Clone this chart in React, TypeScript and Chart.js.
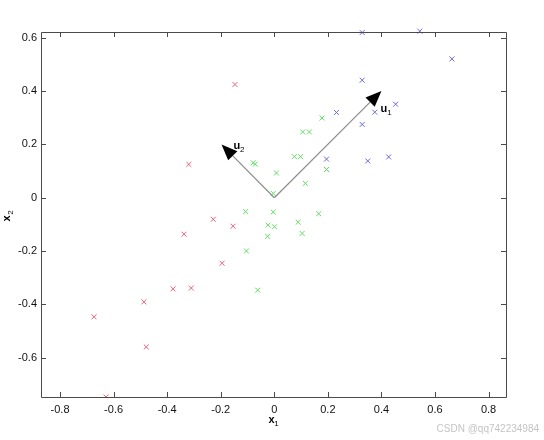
import { useEffect, useRef } from "react";
import { Chart, registerables } from "chart.js";

Chart.register(...registerables);

// ---- data ----
const RED_X = [-0.147, -0.319, -0.228, -0.154, -0.337, -0.195, -0.378, -0.31, -0.487, -0.673, -0.478, -0.628];
const RED_Y = [0.425, 0.125, -0.081, -0.107, -0.137, -0.246, -0.342, -0.339, -0.391, -0.447, -0.56, -0.748];

const GREEN_X = [-0.079, -0.071, 0.008, -0.004, -0.107, -0.004, 0.178, 0.106, 0.131, 0.075, 0.098, 0.116, 0.166, 0.195, -0.023, 0.001, 0.089, 0.104, -0.025, -0.104, -0.062];
const GREEN_Y = [0.131, 0.126, 0.093, 0.016, -0.052, -0.054, 0.299, 0.247, 0.247, 0.154, 0.154, 0.054, -0.06, 0.106, -0.103, -0.109, -0.092, -0.134, -0.145, -0.2, -0.347];

const BLUE_X = [0.328, 0.543, 0.663, 0.328, 0.453, 0.232, 0.375, 0.328, 0.195, 0.195, 0.349, 0.427];
const BLUE_Y = [0.62, 0.625, 0.521, 0.441, 0.351, 0.32, 0.321, 0.275, 0.145, 0.106, 0.138, 0.153];

// principal direction arrows (tip coordinates, from origin)
const ARROW_X = [0.4, -0.197];
const ARROW_Y = [0.401, 0.2];
const ARROW_NAMES = ["u", "u"];
const ARROW_SUBS = ["1", "2"];
const ARROW_LABEL_X = [0.409, -0.14];
const ARROW_LABEL_Y = [0.333, 0.194];

const X_TICKS = [-0.8, -0.6, -0.4, -0.2, 0, 0.2, 0.4, 0.6, 0.8];
const Y_TICKS = [-0.6, -0.4, -0.2, 0, 0.2, 0.4, 0.6];
const X_RANGE = [-0.871, 0.865];
const Y_RANGE = [-0.748, 0.622];

const X_TITLE = ["x", "1"];
const Y_TITLE = ["x", "2"];
const WATERMARK = "CSDN @qq742234984";

const FONT = "'Liberation Sans', Arial, sans-serif";

const pts = (xs: number[], ys: number[]) => xs.map((x, i) => ({ x, y: ys[i] }));

const fmt = (v: number) => {
  const r = Math.round(v * 10) / 10;
  if (r === 0) return "0";
  return r.toFixed(1);
};

const framePlugin = {
  id: "frame",
  afterDatasetsDraw(chart: any) {
    const { ctx, chartArea: a, scales } = chart;
    const xs = scales.x;
    const ys = scales.y;
    ctx.save();
    ctx.strokeStyle = "#4a4a4a";
    ctx.lineWidth = 1;
    ctx.beginPath();
    ctx.rect(Math.round(a.left) + 0.5, Math.round(a.top) + 0.5, Math.round(a.right - a.left), Math.round(a.bottom - a.top));
    ctx.stroke();
    const tl = 5;
    ctx.beginPath();
    X_TICKS.forEach((v) => {
      const p = Math.round(xs.getPixelForValue(v)) + 0.5;
      ctx.moveTo(p, a.bottom);
      ctx.lineTo(p, a.bottom - tl);
      ctx.moveTo(p, a.top);
      ctx.lineTo(p, a.top + tl);
    });
    Y_TICKS.forEach((v) => {
      const p = Math.round(ys.getPixelForValue(v)) + 0.5;
      ctx.moveTo(a.left, p);
      ctx.lineTo(a.left + tl, p);
      ctx.moveTo(a.right, p);
      ctx.lineTo(a.right - tl, p);
    });
    ctx.stroke();

    // arrows
    const ox = xs.getPixelForValue(0);
    const oy = ys.getPixelForValue(0);
    ARROW_X.forEach((ax, i) => {
      const tx = xs.getPixelForValue(ax);
      const ty = ys.getPixelForValue(ARROW_Y[i]);
      const dx = tx - ox;
      const dy = ty - oy;
      const len = Math.hypot(dx, dy);
      const ux = dx / len;
      const uy = dy / len;
      const hl = 16;
      const hw = 6.5;
      const bx = tx - ux * hl;
      const by = ty - uy * hl;
      ctx.strokeStyle = "#8c8c8c";
      ctx.lineWidth = 1.2;
      ctx.beginPath();
      ctx.moveTo(ox, oy);
      ctx.lineTo(bx, by);
      ctx.stroke();
      ctx.fillStyle = "#000";
      ctx.beginPath();
      ctx.moveTo(tx, ty);
      ctx.lineTo(bx - uy * hw, by + ux * hw);
      ctx.lineTo(bx + uy * hw, by - ux * hw);
      ctx.closePath();
      ctx.fill();

      const lx = xs.getPixelForValue(ARROW_LABEL_X[i]);
      const ly = ys.getPixelForValue(ARROW_LABEL_Y[i]);
      ctx.fillStyle = "#000";
      ctx.font = `bold 11px ${FONT}`;
      ctx.textAlign = "center";
      ctx.textBaseline = "middle";
      ctx.fillText(ARROW_NAMES[i], lx, ly);
      ctx.font = `8px ${FONT}`;
      ctx.fillText(ARROW_SUBS[i], lx + 5.5, ly + 4);
    });
    ctx.restore();
  },
  afterDraw(chart: any) {
    const { ctx, chartArea: a } = chart;
    ctx.save();
    ctx.fillStyle = "#000";
    ctx.textAlign = "center";
    ctx.textBaseline = "middle";
    // x title
    const cx = (a.left + a.right) / 2;
    ctx.font = `bold 11px ${FONT}`;
    ctx.fillText(X_TITLE[0], cx - 2, 420);
    ctx.font = `8px ${FONT}`;
    ctx.fillText(X_TITLE[1], cx + 3, 424);
    // y title
    ctx.translate(7, (a.top + a.bottom) / 2 + 2);
    ctx.rotate(-Math.PI / 2);
    ctx.font = `bold 11px ${FONT}`;
    ctx.fillText(Y_TITLE[0], -2, 0);
    ctx.font = `8px ${FONT}`;
    ctx.fillText(Y_TITLE[1], 4, 4);
    ctx.restore();

    ctx.save();
    ctx.fillStyle = "#c4c4c4";
    ctx.font = `10px ${FONT}`;
    ctx.textAlign = "right";
    ctx.textBaseline = "middle";
    ctx.fillText(WATERMARK, 539, 429);
    ctx.restore();
  },
};

export default function App() {
  const ref = useRef<HTMLCanvasElement>(null);
  useEffect(() => {
    document.body.style.margin = "0";
    const mk = (label: string, xs: number[], ys: number[], color: string) => ({
      label,
      data: pts(xs, ys),
      pointStyle: "crossRot",
      pointRadius: 3.5,
      pointHoverRadius: 3.5,
      borderColor: color,
      backgroundColor: color,
      pointBorderWidth: 1,
      showLine: false,
      clip: { left: 5, right: 5, top: 5, bottom: 0 },
    });
    const chart = new Chart(ref.current!, {
      type: "scatter",
      data: {
        datasets: [
          mk("red", RED_X, RED_Y, "rgb(236,96,118)"),
          mk("green", GREEN_X, GREEN_Y, "rgb(96,222,96)"),
          mk("blue", BLUE_X, BLUE_Y, "rgb(104,104,226)"),
        ],
      },
      options: {
        animation: false,
        responsive: false,
        events: [],
        layout: { padding: { top: 32, right: 38, left: 0, bottom: 0 } },
        plugins: { legend: { display: false }, tooltip: { enabled: false } },
        scales: {
          x: {
            type: "linear",
            min: X_RANGE[0],
            max: X_RANGE[1],
            afterBuildTicks: (s: any) => {
              s.ticks = X_TICKS.map((value) => ({ value }));
            },
            afterFit: (s: any) => {
              s.height = 43;
            },
            grid: { display: false, drawTicks: false },
            border: { display: false },
            ticks: {
              padding: 6,
              maxRotation: 0,
              autoSkip: false,
              color: "#111",
              font: { family: FONT, size: 11 },
              callback: (v: any) => fmt(Number(v)),
            },
          },
          y: {
            type: "linear",
            min: Y_RANGE[0],
            max: Y_RANGE[1],
            afterBuildTicks: (s: any) => {
              s.ticks = Y_TICKS.map((value) => ({ value }));
            },
            afterFit: (s: any) => {
              s.width = 41;
            },
            grid: { display: false, drawTicks: false },
            border: { display: false },
            ticks: {
              padding: 4,
              autoSkip: false,
              color: "#111",
              font: { family: FONT, size: 11 },
              callback: (v: any) => fmt(Number(v)),
            },
          },
        },
      },
      plugins: [framePlugin],
    } as any);
    return () => chart.destroy();
  }, []);
  return (
    <div style={{ position: "absolute", left: 0, top: 0, width: 544, height: 440, background: "#fff" }}>
      <canvas ref={ref} width={544} height={440} />
    </div>
  );
}
